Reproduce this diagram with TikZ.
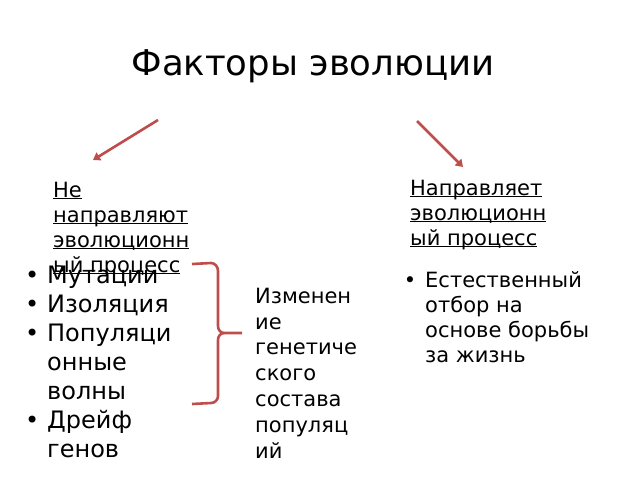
\documentclass[tikz,border=0pt]{standalone}
\usepackage{fontspec}
\setmainfont{DejaVu Sans}
\usetikzlibrary{arrows.meta}
\definecolor{accred}{RGB}{190,78,76}
\newcommand{\ulline}[1]{\underline{\raisebox{0pt}[\height][0pt]{#1}}}
\tikzset{
  txt/.style={inner sep=0pt, anchor=base west, align=left},
  arr/.style={accred, line width=2.6pt, -{Triangle[width=9pt,length=7pt]}},
}

\begin{document}
\begin{tikzpicture}[x=1pt,y=-1pt]
        \useasboundingbox (0,0) rectangle (640,480);
        % title
        \node[inner sep=0pt, anchor=base, font={\fontsize{35.5}{42}\selectfont}] (title) at (313,75) {Факторы эволюции};
        % arrows
        \coordinate (lfrom) at (158,120);
        \coordinate (lto) at (93,160);
        \coordinate (rfrom) at (417,121);
        \coordinate (rto) at (463,167);
        \draw[arr] (lfrom) -- (lto);
        \draw[arr] (rfrom) -- (rto);
        % headings (base = last line)
        \node[txt, font={\fontsize{21}{25}\selectfont}] (nondir) at (53,272) {\ulline{Не}\\ \ulline{направляют}\\ \ulline{эволюционн}\\ \ulline{ый процесс}};
        \node[txt, font={\fontsize{21}{25}\selectfont}] (dir) at (410,245) {\ulline{Направляет}\\ \ulline{эволюционн}\\ \ulline{ый процесс}};
        % lists
        \node[txt, font={\fontsize{24}{29}\selectfont}] (factors) at (47,457) {%
          \llap{•\hspace{8pt}}Мутации\\ \llap{•\hspace{8pt}}Изоляция\\ \llap{•\hspace{8pt}}Популяци\\ онные\\ волны\\ \llap{•\hspace{8pt}}Дрейф\\ генов};
        \node[txt, font={\fontsize{21}{25}\selectfont}] (select) at (425,362) {%
          \llap{•\hspace{9pt}}Естественный\\ отбор на\\ основе борьбы\\ за жизнь};
        \node[txt, font={\fontsize{21}{25.8}\selectfont}] (change) at (255,458) {Изменен\\ ие\\ генетиче\\ ского\\ состава\\ популяц\\ ий};
        % brace
        \draw[accred, line width=2.6pt] (192,264) -- (211,263) to[out=0,in=90] (218,271) -- (218,326)
          to[out=-90,in=180] (224,333) -- (242,333);
        \draw[accred, line width=2.6pt] (224,333) to[out=180,in=90] (218,340) -- (218,396)
          to[out=-90,in=0] (211,403) -- (192,404);
\end{tikzpicture}
\end{document}
